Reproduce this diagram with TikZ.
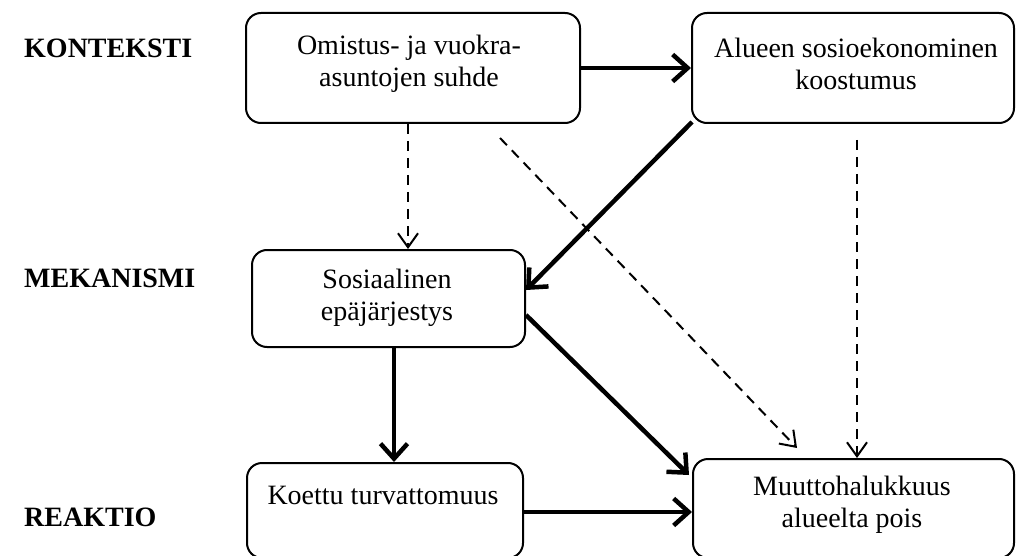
\documentclass[tikz,border=0pt]{standalone}
\usepackage{fontspec}
\setmainfont{Liberation Serif}
\usetikzlibrary{arrows.meta,calc}
\begin{document}
\begin{tikzpicture}[x=1pt,y=-1pt,
  box/.style={draw,line width=2pt,rounded corners=15pt,inner sep=0pt},
  txt/.style={font=\fontsize{28}{32}\selectfont,align=center,inner sep=0pt},
  lbl/.style={font=\fontsize{28}{32}\selectfont\bfseries,anchor=west,inner sep=0pt},
  strong/.style={line width=4.5pt,-{Straight Barb[length=15pt,width=27pt,line width=4.5pt]}},
  weak/.style={line width=2pt,dash pattern=on 10pt off 7pt,-{Straight Barb[length=14pt,width=20pt,line width=2pt]}}
]
\useasboundingbox (0,0) rectangle (1017,556);
\clip (0,0) rectangle (1017,556);
% boxes
\node[box,minimum width=334pt,minimum height=110pt] (b1) at (413,68) {};
\node[box,minimum width=322pt,minimum height=110pt] (b2) at (853,68) {};
\node[box,minimum width=273pt,minimum height=97pt] (b3) at (388.5,298.5) {};
\node[box,minimum width=276pt,minimum height=95pt] (b4) at (385,510.5) {};
\node[box,minimum width=321pt,minimum height=99pt] (b5) at (853.5,508.5) {};
% texts
\node[txt] (t1) at (409,64) {Omistus- ja vuokra-\\asuntojen suhde};
\node[txt] (t2) at (856,64) {Alueen sosioekonominen\\koostumus};
\node[txt] (t3) at (387,298) {Sosiaalinen\\epäjärjestys};
\node[txt] (t4) at (383,495) {Koettu turvattomuus};
\node[txt] (t5) at (852,505) {Muuttohalukkuus\\alueelta pois};
% row labels
\node[lbl] (l1) at (24,48) {KONTEKSTI};
\node[lbl] (l2) at (24,278) {MEKANISMI};
\node[lbl] (l3) at (24,517) {REAKTIO};
% free ends
\coordinate (d1) at (500,138);
\coordinate (d2) at (797,448);
\coordinate (d3) at (857,140);
% connectors
\draw[strong] (b1.east) -- (b2.west);
\draw[weak] ([xshift=-5pt]b1.south) -- ([xshift=19.5pt]b3.north);
\draw[weak] (d1) -- (d2);
\draw[weak] (d3) -- (d3 |- b5.north);
\draw[strong] ([xshift=1pt,yshift=2pt]b2.south west) -- ([yshift=8.5pt]b3.east);
\draw[strong] ([yshift=-16.5pt]b3.east) -- ([xshift=-3pt,yshift=33.5pt]b5.west);
\draw[strong] ([xshift=5.5pt]b3.south) -- ([xshift=9pt]b4.north);
\draw[strong] ([yshift=-1.5pt]b4.east) -- ([yshift=-3.5pt]b5.west);
\end{tikzpicture}
\end{document}
